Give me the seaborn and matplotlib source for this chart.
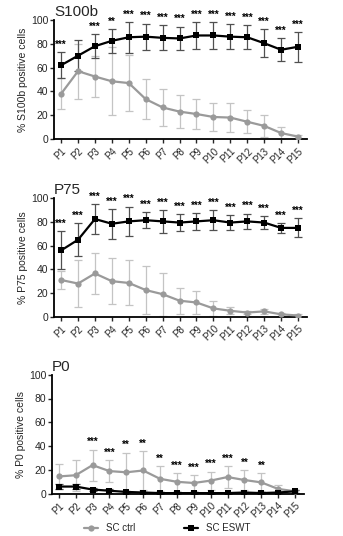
import numpy as np
import pandas as pd
import matplotlib
matplotlib.use("Agg")
import matplotlib.pyplot as plt
import seaborn as sns
from matplotlib.lines import Line2D

sns.set_theme(style="ticks")
plt.rcParams['font.family'] = ['Liberation Sans', 'DejaVu Sans']

passages = [f"P{i}" for i in range(1, 16)]

# S100b
s100_ctrl = [38, 57, 52.5, 48.5, 47, 33.5, 26.5, 23, 21, 18.5, 18, 14.5, 11, 5, 2]
s100_ctrl_sd = [13, 23, 17, 28.5, 23.5, 17, 15.5, 14, 13, 11.5, 12.5, 9.5, 9.5, 5, 1.5]
s100_eswt = [62, 70, 78, 82.5, 85.5, 86, 85, 84.5, 87, 87, 86, 85.5, 80.5, 75, 77.5]
s100_eswt_sd = [11, 13, 10, 10, 13, 11, 10.5, 10, 11, 11, 10.5, 10, 12, 9.5, 12.5]
s100_stars = ["***", "", "***", "**", "***", "***", "***", "***", "***", "***", "***", "***", "***", "***", "***"]

# P75
p75_ctrl = [31, 28, 36.5, 30, 28.5, 22.5, 19, 13.5, 12, 7, 5, 3.5, 4.5, 2, 1]
p75_ctrl_sd = [7.5, 19.5, 17, 19.5, 19, 20.5, 18, 11, 10, 6.5, 3, 1, 2, 1, 1]
p75_eswt = [56, 65, 82.5, 78.5, 80.5, 81.5, 80.5, 79.5, 80.5, 81.5, 79.5, 80.5, 79.5, 75, 75]
p75_eswt_sd = [16, 14, 12.5, 12.5, 12.5, 7, 9.5, 7, 7, 8.5, 6.5, 6.5, 5.5, 4, 8]
p75_stars = ["***"] * 15

# P0
p0_ctrl = [14.5, 15.5, 24, 19, 18, 19.5, 12.5, 10, 9, 11, 14, 11.5, 9.5, 4, 2]
p0_ctrl_sd = [10.5, 13, 13, 9, 16.5, 16, 10.5, 7.5, 6.5, 7.5, 9, 8.5, 7.5, 3.5, 1]
p0_eswt = [6, 6, 3.5, 2.5, 1.5, 1, 0.5, 0.5, 0.5, 0.5, 0.5, 1, 0.5, 1, 2]
p0_eswt_sd = [2, 2, 1.5, 1.5, 1, 0.5, 0.5, 0.5, 0.5, 0.5, 0.5, 0.5, 0.5, 0.5, 1]
p0_stars = ["", "", "***", "***", "**", "**", "**", "***", "***", "***", "***", "**", "**", "", ""]

CTRL_LINE = "#9a9a9a"
CTRL_ERR = "#c4c4c4"
ESWT_LINE = "#000000"
ESWT_ERR = "#505050"

fig = plt.figure(figsize=(3.43, 5.36), dpi=100)

panels = [
    ("S100b", "% S100b positive cells", s100_ctrl, s100_ctrl_sd, s100_eswt, s100_eswt_sd, s100_stars, "eswt",
     [54/343, 397/536, 253/343, 119/536]),
    ("P75", "% P75 positive cells", p75_ctrl, p75_ctrl_sd, p75_eswt, p75_eswt_sd, p75_stars, "eswt",
     [54/343, 219.3/536, 253/343, 118.4/536]),
    ("P0", "% P0 positive cells", p0_ctrl, p0_ctrl_sd, p0_eswt, p0_eswt_sd, p0_stars, "ctrl",
     [51.7/343, 42.3/536, 252.3/343, 119/536]),
]

for title, ylabel, ctrl, ctrl_sd, eswt, eswt_sd, stars, star_ref, rect in panels:
    ax = fig.add_axes(rect)
    x = np.arange(len(passages))
    df = pd.DataFrame({
        "x": np.concatenate([x, x]),
        "val": ctrl + eswt,
        "group": ["SC ctrl"] * 15 + ["SC ESWT"] * 15,
    })
    ax.errorbar(x, ctrl, yerr=ctrl_sd, fmt="none", ecolor=CTRL_ERR, elinewidth=0.9,
                capsize=2.8, capthick=0.9, zorder=1)
    ax.errorbar(x, eswt, yerr=eswt_sd, fmt="none", ecolor=ESWT_ERR, elinewidth=0.9,
                capsize=2.8, capthick=0.9, zorder=2)
    sns.lineplot(data=df, x="x", y="val", hue="group", style="group",
                 palette={"SC ctrl": CTRL_LINE, "SC ESWT": ESWT_LINE},
                 markers={"SC ctrl": "o", "SC ESWT": "s"}, dashes=False,
                 markersize=4.5, markeredgewidth=0, linewidth=1.6, legend=False, ax=ax, zorder=3)
    ref = eswt if star_ref == "eswt" else ctrl
    ref_sd = eswt_sd if star_ref == "eswt" else ctrl_sd
    for xi, (m, s, st) in enumerate(zip(ref, ref_sd, stars)):
        if st:
            ax.text(xi, m + s + 2, st, ha="center", va="bottom", fontsize=7,
                    color="black", fontweight="bold", clip_on=False)
    ax.set_xlim(-0.42, 14.53)
    ax.set_ylim(0, 100)
    ax.set_yticks([0, 20, 40, 60, 80, 100])
    ax.set_xticks(x)
    ax.set_xticklabels(passages, rotation=45, ha="right", rotation_mode="anchor", fontsize=7)
    ax.tick_params(axis="y", labelsize=7.5, length=3, width=1, pad=1)
    ax.tick_params(axis="x", length=3, width=1, pad=2)
    ax.set_xlabel("")
    ax.set_ylabel(ylabel, fontsize=7.5, labelpad=2)
    for sp in ["top", "right"]:
        ax.spines[sp].set_visible(False)
    for sp in ["left", "bottom"]:
        ax.spines[sp].set_linewidth(1.3)
        ax.spines[sp].set_color("black")
    ax.text(0.0, 1.01, title, transform=ax.transAxes, fontsize=11, ha="left", va="bottom")

handles = [
    Line2D([0], [0], color=CTRL_LINE, marker="o", markersize=4.5, markeredgewidth=0, linewidth=1.6),
    Line2D([0], [0], color=ESWT_LINE, marker="s", markersize=4.5, markeredgewidth=0, linewidth=1.6),
]
fig.legend(handles, ["SC ctrl", "SC ESWT"], loc="center", bbox_to_anchor=(0.487, 0.015),
           ncol=2, frameon=False, fontsize=7, handlelength=1.5, columnspacing=5.0, handletextpad=0.8)

fig.savefig("out.png", dpi=100)
